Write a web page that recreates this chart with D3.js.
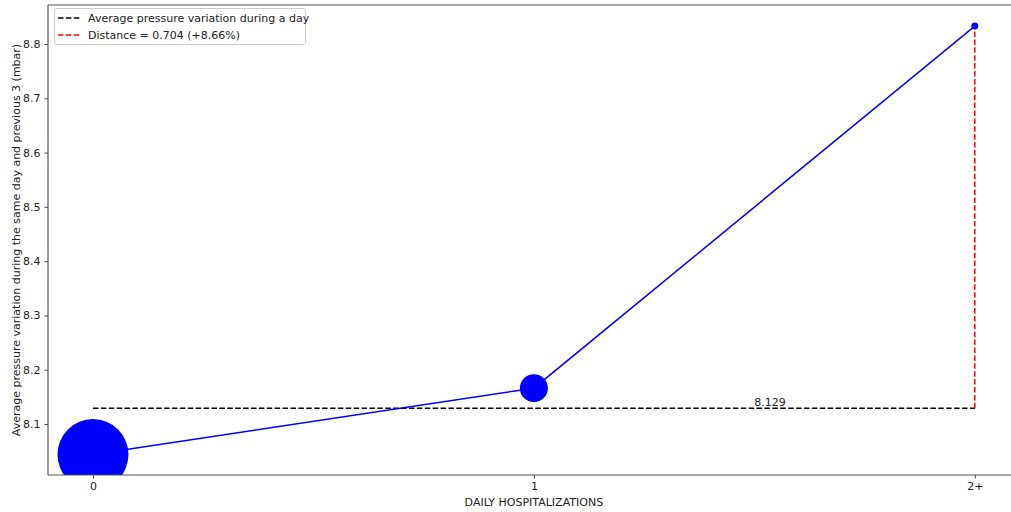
<!DOCTYPE html>
<html><head><meta charset="utf-8">
<script src="https://cdn.jsdelivr.net/npm/d3@7"></script>
<style>body{margin:0;background:#fff}svg{display:block}text{font-family:"DejaVu Sans",sans-serif;fill:#222}</style>
</head><body><svg id="c" width="1011" height="512"></svg>
<script>
const categories = ["0", "1", "2+"];
const values = [8.0438, 8.166, 8.833];
const radii = [35.5, 14, 3.5];
const meanValue = 8.129;
const yTicks = [8.1, 8.2, 8.3, 8.4, 8.5, 8.6, 8.7, 8.8];
const legendLabels = ["Average pressure variation during a day", "Distance = 0.704 (+8.66%)"];
const legendColors = ["#000", "red"];

const svg = d3.select("#c");
const L = 48, T = 5, B = 475, R = 1018;
const x = d3.scaleLinear().domain([-0.102, 2.098]).range([L, R]);
const y = d3.scaleLinear().domain([8.0061, 8.8718]).range([B, T]);

const clip = svg.append("clipPath").attr("id","clp").append("rect").attr("x",L).attr("y",T).attr("width",R-L).attr("height",B-T);
const g = svg.append("g").attr("clip-path","url(#clp)");

// mean line
g.append("line").attr("x1",x(0)).attr("x2",x(2)).attr("y1",y(meanValue)).attr("y2",y(meanValue))
  .attr("stroke","#000").attr("stroke-width",1.5).attr("stroke-dasharray","5.5,2.4");
// distance line
g.append("line").attr("x1",x(2)).attr("x2",x(2)).attr("y1",y(meanValue)).attr("y2",y(values[2]))
  .attr("stroke","red").attr("stroke-width",1.5).attr("stroke-dasharray","5.5,2.4");
// series line
g.append("path").datum(values).attr("fill","none").attr("stroke","blue").attr("stroke-width",1.5)
  .attr("d", d3.line().x((d,i)=>x(i)).y(d=>y(d)));
g.selectAll("circle.pt").data(values).join("circle").attr("class","pt")
  .attr("cx",(d,i)=>x(i)).attr("cy",d=>y(d)).attr("r",(d,i)=>radii[i]).attr("fill","blue");
svg.append("text").attr("x",x(1.5)).attr("y",y(meanValue)-2).attr("font-size",11).text(meanValue.toFixed(3));

// axes
const xa = svg.append("g").attr("transform",`translate(0,${B})`)
  .call(d3.axisBottom(x).tickValues([0,1,2]).tickFormat((d,i)=>categories[i]).tickSize(3.5).tickPadding(4));
const ya = svg.append("g").attr("transform",`translate(${L},0)`)
  .call(d3.axisLeft(y).tickValues(yTicks).tickFormat(d3.format(".1f")).tickSize(3.5).tickPadding(4));
[xa,ya].forEach(a=>{a.selectAll("text").attr("font-size",11).attr("font-family","DejaVu Sans").attr("fill","#222");
  a.selectAll("line").attr("stroke","#444"); a.select(".domain").remove();});
// spines
svg.append("line").attr("x1",L).attr("x2",R).attr("y1",B).attr("y2",B).attr("stroke","#555").attr("stroke-width",1.2);
svg.append("line").attr("x1",L).attr("x2",R).attr("y1",T).attr("y2",T).attr("stroke","#555").attr("stroke-width",1.2);
svg.append("line").attr("x1",L).attr("x2",L).attr("y1",T).attr("y2",B).attr("stroke","#555").attr("stroke-width",1.2);

svg.append("text").attr("x",x(1)).attr("y",506).attr("text-anchor","middle").attr("font-size",11).text("DAILY HOSPITALIZATIONS");
svg.append("text").attr("transform",`translate(20,${(T+B)/2}) rotate(-90)`).attr("text-anchor","middle").attr("font-size",11)
  .text("Average pressure variation during the same day and previous 3 (mbar)");

// legend
const lg = svg.append("g");
lg.append("rect").attr("x",54.5).attr("y",8.5).attr("width",251).attr("height",36).attr("rx",2.5)
  .attr("fill","#fff").attr("stroke","#ccc");
legendLabels.forEach((t,i)=>{
  const yy = 18 + i*17;
  lg.append("line").attr("x1",58).attr("x2",81).attr("y1",yy).attr("y2",yy).attr("stroke",legendColors[i])
    .attr("stroke-width",1.5).attr("stroke-dasharray","5.5,2.4");
  lg.append("text").attr("x",88).attr("y",yy+4).attr("font-size",11).text(t);
});
</script></body></html>
